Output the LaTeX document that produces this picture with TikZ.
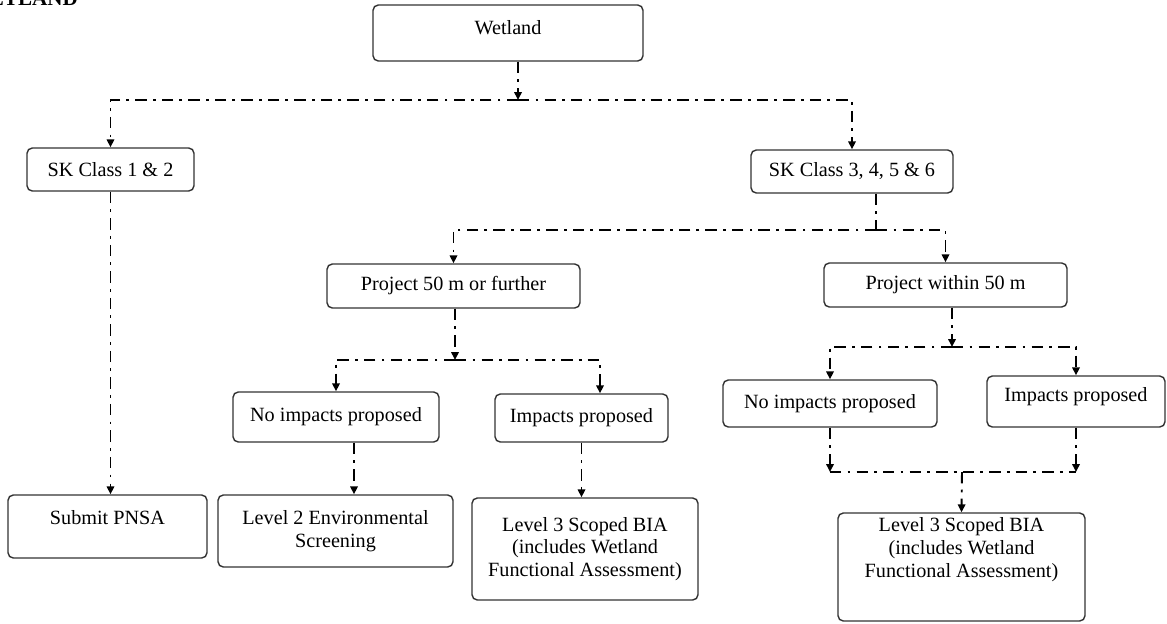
\documentclass[tikz,border=0pt]{standalone}
\usepackage{fontspec}
\setmainfont{Liberation Serif}
\usetikzlibrary{arrows.meta}

\begin{document}
\begin{tikzpicture}[x=0.02cm, y=-0.02cm,
        box/.style={draw=black!80, line width=0.8pt, rounded corners=3pt, align=center,
            inner sep=2pt, font=\fontsize{11.5}{13}\selectfont},
        flow/.style={line width=1.1pt, dash pattern=on 6.5pt off 3.5pt on 1.6pt off 3.5pt},
        tip/.style={-{Triangle[length=4.5pt,width=4.2pt]}}]
    \useasboundingbox (0,0) rectangle (1167,623);

    % heading, cut off by the page edge
    \node[anchor=base east, font=\bfseries\fontsize{12}{14}\selectfont] (title) at (84,5) {WETLAND};

    \node[box, minimum width=5.4cm, minimum height=1.12cm, text depth=6.8pt] (wet) at (508,33) {Wetland};
    \node[box, minimum width=3.34cm, minimum height=0.86cm] (classL) at (110.5,169.5) {SK Class 1 \& 2};
    \node[box, minimum width=4.04cm, minimum height=0.86cm] (classR) at (852,171.5) {SK Class 3, 4, 5 \& 6};

    \node[box, minimum width=5.06cm, minimum height=0.88cm] (projFar) at (453.5,286) {Project 50 m or further};
    \node[box, minimum width=4.86cm, minimum height=0.88cm] (projNear) at (945.5,285) {Project within 50 m};

    \node[box, minimum width=4.12cm, minimum height=1.0cm] (noImpL) at (336,417) {No impacts proposed};
    \node[box, minimum width=3.46cm, minimum height=0.96cm] (impM) at (581.5,418) {Impacts proposed};
    \node[box, minimum width=4.28cm, minimum height=0.94cm] (noImpR) at (830,403.5) {No impacts proposed};
    \node[box, minimum width=3.56cm, minimum height=1.02cm, text depth=8pt] (impR) at (1076,401.5) {Impacts proposed};

    \node[box, minimum width=3.98cm, minimum height=1.26cm, text depth=10.8pt] (submit) at (107.5,526.5) {Submit PNSA};
    \node[box, minimum width=4.7cm, minimum height=1.44cm] (level2) at (335.5,531) {Level 2 Environmental\\Screening};
    \node[box, minimum width=4.52cm, minimum height=2.04cm] (level3M) at (585,549) {Level 3 Scoped BIA\\(includes Wetland\\Functional Assessment)};
    \node[box, minimum width=4.94cm, minimum height=2.16cm, text depth=22pt] (level3R) at (961.5,567) {Level 3 Scoped BIA\\(includes Wetland\\Functional Assessment)};

    % bus lines and drops
    \coordinate (busA) at (518,100);
    \coordinate (busB) at (876,230);
    \coordinate (busC) at (455,360);
    \coordinate (c2) at (600,360);
    \coordinate (d1) at (354,442);
    \coordinate (busD) at (952,347);
    \coordinate (busE) at (962,472);

    \draw[flow, tip] (busA |- wet.south) -- (busA);
    \draw[flow, tip] (busA) -| (classL.north);
    \draw[flow, tip] (busA) -| (classR.north);
    \draw[flow, tip] (classL.south) -- (classL.south |- submit.north);

    \draw[flow] (busB |- classR.south) -- (busB);
    \draw[flow, tip] (busB) -| (projFar.north);
    \draw[flow, tip] (busB) -| (projNear.north);

    \draw[flow, tip] (busC |- projFar.south) -- (busC);
    \draw[flow, tip] (busC) -| (noImpL.north);
    \draw[flow, tip] (busC) -- (c2) -- (c2 |- impM.north);
    \draw[flow, tip] (d1 |- noImpL.south) -- (d1 |- level2.north);
    \draw[flow, tip] (impM.south) -- (impM.south |- level3M.north);

    \draw[flow, tip] (busD |- projNear.south) -- (busD);
    \draw[flow, tip] (busD) -| (noImpR.north);
    \draw[flow, tip] (busD) -| (impR.north);
    \draw[flow, tip] (noImpR.south) -- (noImpR.south |- busE);
    \draw[flow, tip] (impR.south) -- (impR.south |- busE);
    \draw[flow] (noImpR.south |- busE) -- (impR.south |- busE);
    \draw[flow, tip] (busE) -- (level3R.north);
\end{tikzpicture}
\end{document}
